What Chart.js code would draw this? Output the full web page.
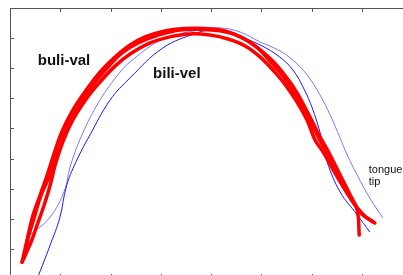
<!DOCTYPE html>
<html>
<head>
<meta charset="utf-8">
<script src="https://cdn.jsdelivr.net/npm/chart.js@4.4.1/dist/chart.umd.min.js"></script>
<style>
  html, body { margin: 0; padding: 0; background: #fff; overflow: hidden; }
  #wrap { width: 403px; height: 275px; overflow: hidden; }
  canvas { display: block; }
</style>
</head>
<body>
<div id="wrap"><canvas id="tongueChart" width="430" height="290"></canvas></div>
<script>
// Tongue contours: three repetitions of "buli-val" (red), two of "bili-vel" (blue)
// x / y in mm-like units

const xTicks = [0, 10, 20, 30, 40, 50, 60, 70, 80];
const yTicks = [0, 10, 20, 30, 40, 50, 60, 70, 80, 90];

const buliVal1 = [[2.4,5.6],[3.4,13.0],[4.6,21.3],[6.0,27.9],[7.4,34.5],[9.0,42.8],[10.3,48.8],[12.3,55.5],[14.9,62.1],[17.9,68.7],[20.9,73.7],[23.9,77.7],[26.9,80.4],[30.8,82.4],[34.8,83.2],[38.8,83.2],[42.8,82.4],[46.4,80.0],[49.8,76.1],[52.7,71.7],[55.7,65.4],[57.7,60.1],[59.7,53.8],[61.7,47.2],[63.7,41.2],[65.7,34.5],[67.7,27.9],[69.1,22.9],[69.5,14.6]];
const buliVal2 = [[2.4,5.6],[4.2,12.3],[5.6,18.9],[6.8,24.6],[8.0,31.2],[9.0,37.9],[10.5,45.5],[12.5,52.8],[15.3,60.1],[17.9,65.4],[20.9,70.7],[23.9,74.7],[27.9,78.4],[31.8,80.4],[35.8,81.4],[39.8,81.0],[43.4,79.7],[46.8,77.4],[49.8,73.7],[52.7,68.7],[55.1,63.8],[57.1,58.8],[59.1,52.8],[60.7,46.2],[62.3,42.2],[64.1,36.9],[66.1,31.2],[67.7,26.9],[69.1,23.6],[70.8,20.6],[72.6,18.6]];
const buliVal3 = [[2.8,7.0],[3.6,13.6],[4.8,20.3],[6.2,27.9],[8.2,35.5],[9.8,43.5],[11.5,50.8],[13.9,58.1],[16.5,64.4],[19.5,70.4],[22.3,75.1],[25.5,78.4],[29.5,81.0],[33.8,82.7],[37.8,82.9],[41.8,82.4],[45.4,80.7],[48.8,77.4],[51.7,72.4],[54.3,67.4],[56.7,61.1],[58.7,55.5],[60.9,48.5],[62.9,42.2],[64.9,35.5],[66.9,29.6],[68.7,24.6],[70.0,21.6],[72.0,19.3]];

const biliVel1 = [[5.4,0],[8.0,11.3],[9.9,20.3],[11.3,31.2],[13.5,40.2],[15.9,47.8],[19.9,59.4],[23.9,66.8],[30.4,76.7],[37.2,81.7],[40.4,82.7],[44.8,81.0],[49.8,77.7],[53.7,73.7],[56.3,69.4],[58.3,63.8],[60.3,56.1],[62.1,46.2],[63.1,38.9],[65.7,28.9],[69.1,21.3],[71.6,15.6]];
const biliVel2 = [[4.0,14.6],[8.0,20.6],[10.9,29.6],[11.9,36.9],[14.3,47.8],[17.9,59.4],[21.9,68.7],[23.9,72.1],[29.3,78.7],[33.8,81.4],[37.8,82.7],[41.8,83.4],[45.8,82.0],[49.8,78.7],[53.3,76.1],[56.3,72.7],[59.1,67.8],[61.7,61.1],[63.7,54.5],[65.7,46.8],[67.1,41.2],[69.1,34.5],[71.6,26.9],[74.2,20.3]];

// text annotations: [text, x, y, align, font]
const labels = [
    ['buli-val', 10.75, 72.4, 'center', 'bold 15px "Liberation Sans", Arial, sans-serif'],
    ['bili-vel', 33.2, 68.1, 'center', 'bold 15px "Liberation Sans", Arial, sans-serif'],
    ['tongue', 71.4, 36.2, 'left', '11px "Liberation Sans", Arial, sans-serif'],
    ['tip', 71.4, 32.2, 'left', '11px "Liberation Sans", Arial, sans-serif']
];

const toPoints = arr => arr.map(([x, y]) => ({ x, y }));

const redLine = (data) => ({
    data: toPoints(data),
    borderColor: '#ff0000',
    borderWidth: 3.5,
    borderCapStyle: 'round',
    borderJoinStyle: 'round',
    pointRadius: 0,
    showLine: true,
    tension: 0.4
});

const blueLine = (data, color) => ({
    data: toPoints(data),
    borderColor: color,
    borderWidth: 1,
    pointRadius: 0,
    showLine: true,
    tension: 0.4
});

// frame + inward ticks + text
const framePlugin = {
    id: 'frame',
    afterDatasetsDraw(chart) {
        const { ctx, chartArea, scales } = chart;
        const sx = scales.x, sy = scales.y;
        ctx.save();
        ctx.strokeStyle = '#555';
        ctx.lineWidth = 1;
        ctx.beginPath();
        ctx.moveTo(chartArea.left + 0.5, chartArea.bottom);
        ctx.lineTo(chartArea.left + 0.5, chartArea.top + 0.5);
        ctx.lineTo(chartArea.right, chartArea.top + 0.5);
        ctx.stroke();

        ctx.beginPath();
        xTicks.forEach(v => {
            const px = Math.round(sx.getPixelForValue(v)) + 0.5;
            ctx.moveTo(px, chartArea.top);
            ctx.lineTo(px, chartArea.top + 4);
            ctx.moveTo(px, chartArea.bottom);
            ctx.lineTo(px, chartArea.bottom - 5);
        });
        yTicks.forEach(v => {
            const py = Math.round(sy.getPixelForValue(v)) + 0.5;
            ctx.moveTo(chartArea.left, py);
            ctx.lineTo(chartArea.left + 4, py);
        });
        ctx.stroke();

        ctx.fillStyle = '#111';
        ctx.textBaseline = 'middle';
        labels.forEach(([text, x, y, align, font]) => {
            ctx.font = font;
            ctx.textAlign = align;
            ctx.fillText(text, sx.getPixelForValue(x), sy.getPixelForValue(y));
        });
        ctx.restore();
    }
};

new Chart(document.getElementById('tongueChart'), {
    type: 'scatter',
    data: {
        datasets: [
            redLine(buliVal1),
            redLine(buliVal2),
            redLine(buliVal3),
            blueLine(biliVel1, '#1a1aff'),
            blueLine(biliVel2, '#7878ff')
        ]
    },
    options: {
        responsive: false,
        animation: false,
        layout: { padding: { left: 10, top: 8, right: 18, bottom: 11 } },
        plugins: { legend: { display: false }, tooltip: { enabled: false } },
        scales: {
            x: { type: 'linear', min: 0, max: 80, display: false },
            y: { type: 'linear', min: 0, max: 90, display: false }
        }
    },
    plugins: [framePlugin]
});
</script>
</body>
</html>
